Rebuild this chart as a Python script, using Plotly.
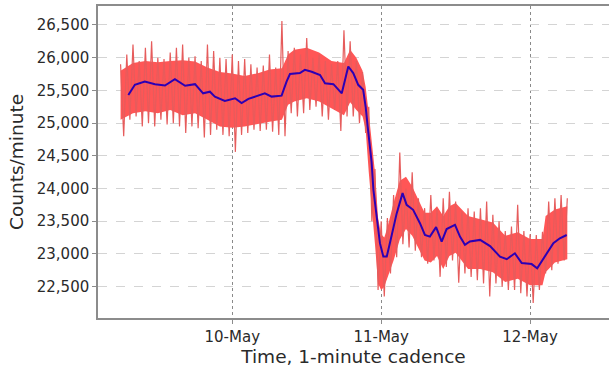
import pandas as pd
import plotly.graph_objects as go

# ---------------- data ----------------
BASE = pd.Timestamp("2015-05-09 00:00")  # hours below are counted from 9-May 00:00

# raw 1-minute counts: local high at each full hour, local low at each half hour
raw_hi_hours = list(range(6, 79))
raw_hi = [25900, 26050, 26200, 25950, 26150, 26250, 26000, 25980, 26080, 26150,
          26200, 26000, 26020, 25950, 26200, 26100, 26000, 25980, 26050, 25950,
          25980, 25900, 25850, 25880, 26050, 25850, 26560, 26100, 26150, 26050,
          26300, 26000, 26050, 25950, 25900, 25950, 26420, 26250, 25950, 25780,
          25250, 24300, 23500, 23550, 23900, 24550, 24000, 24250, 23850, 23700,
          23900, 23700, 23850, 23950, 23800, 23650, 23700, 23650, 23700, 23800,
          23600, 23500, 23350, 23420, 23750, 23350, 23300, 23290, 23340, 23800,
          23850, 23900, 23850]
raw_lo_hours = [h + 0.5 for h in range(6, 78)]
raw_lo = [24800, 25050, 25100, 24950, 25000, 24950, 25050, 24980, 25000, 24950,
          24850, 24950, 24920, 24780, 24820, 24900, 24820, 24800, 24560, 24820,
          24850, 24900, 24880, 24900, 24870, 24820, 24800, 25150, 25100, 25150,
          25200, 25250, 25100, 25050, 25200, 24880, 25100, 25100, 25000, 24850,
          23500, 22450, 22350, 22700, 22950, 23150, 23100, 23050, 22950, 22850,
          22900, 22650, 22800, 22900, 22560, 22700, 22650, 22600, 22550, 22350,
          22550, 22500, 22450, 22450, 22400, 22350, 22250, 22450, 22700, 22750,
          22850, 22900]

# dense core of the raw series
core_hours = [6, 8, 10, 12, 14, 16, 18, 20, 22, 24, 26, 28, 30, 32, 33, 34, 36, 38,
              40, 42, 43, 44, 45, 45.5, 46, 46.5, 47, 47.5, 48, 48.5, 49, 50, 51,
              52, 53, 54, 55, 56, 57, 58, 59, 60, 62, 64, 66, 68, 70, 72, 74, 74.5,
              76, 78]
core_upper = [25800, 25920, 25950, 25930, 25950, 25960, 25940, 25850, 25780, 25760,
              25720, 25760, 25820, 25840, 26050, 26120, 26150, 26080, 25950, 25920,
              26120, 26000, 25800, 25550, 25150, 24650, 24250, 23550, 23300, 23250,
              23400, 23780, 24120, 24180, 24030, 23830, 23630, 23630, 23730, 23580,
              23730, 23780, 23580, 23530, 23480, 23280, 23330, 23230, 23230, 23580,
              23680, 23730]
core_lower = [25050, 25150, 25180, 25150, 25200, 25120, 25150, 25050, 24950, 24930,
              24950, 24980, 25020, 25050, 25280, 25330, 25380, 25330, 25220, 25120,
              25320, 25200, 25100, 24900, 24250, 23650, 23150, 22550, 22450, 22500,
              22650, 22900, 23220, 23380, 23280, 23080, 22900, 22870, 22970, 22770,
              22970, 23020, 22770, 22770, 22720, 22570, 22620, 22520, 22520, 22720,
              22870, 22920]

# smoothed curve
smooth_hours = [7.25, 8.3, 9.9, 11.55, 13.15, 14.75, 16.4, 18.0, 19.3, 20.4, 21.2,
                22.8, 24.45, 25.5, 26.6, 27.65, 29.25, 30.35, 31.95, 32.75, 33.3,
                34.9, 35.7, 36.8, 38.15, 38.95, 40.3, 41.65, 42.15, 42.7, 43.5, 44.3,
                45.1, 45.5, 45.8, 46.2, 46.45, 46.75, 47.3, 47.8, 48.35, 48.9, 49.4,
                50.5, 51.45, 52.1, 53.15, 54.25, 55.05, 55.85, 56.85, 57.75, 58.55,
                59.9, 60.7, 61.5, 62.3, 63.95, 65.55, 67.15, 68.25, 69.55, 70.65,
                72.25, 73.15, 74.4, 75.75, 76.8, 77.9]
smooth_vals = [25430, 25585, 25635, 25595, 25575, 25670, 25570, 25595, 25455, 25480,
               25405, 25340, 25380, 25305, 25370, 25405, 25455, 25405, 25420, 25635,
               25750, 25765, 25815, 25785, 25735, 25610, 25595, 25455, 25635, 25865,
               25765, 25585, 25510, 25250, 24970, 24665, 24410, 23980, 23570, 23165,
               22960, 22960, 23165, 23620, 23930, 23750, 23675, 23470, 23290, 23265,
               23410, 23190, 23380, 23445, 23265, 23140, 23190, 23215, 23120, 22960,
               22920, 23010, 22860, 22845, 22780, 22970, 23165, 23240, 23290]

x_title = "Time, 1-minute cadence"
y_title = "Counts/minute"
x_tick_days = ["2015-05-10", "2015-05-11", "2015-05-12"]


def ts(hours):
    return [BASE + pd.Timedelta(hours=h) for h in hours]


# interleave highs and lows into one raw trace
raw_points = sorted(list(zip(raw_hi_hours, raw_hi)) + list(zip(raw_lo_hours, raw_lo)))
raw_t = ts([p[0] for p in raw_points])
raw_v = [p[1] for p in raw_points]

fig = go.Figure()
fig.add_trace(go.Scatter(
    x=ts(core_hours) + ts(core_hours[::-1]),
    y=core_upper + core_lower[::-1],
    fill="toself", fillcolor="#ff5656", mode="lines",
    line=dict(width=0, color="#ff5656"), hoverinfo="skip"))
fig.add_trace(go.Scatter(x=raw_t, y=raw_v, mode="lines",
                         line=dict(color="#e65c5c", width=1.2)))
fig.add_trace(go.Scatter(x=ts(smooth_hours), y=smooth_vals, mode="lines",
                         line=dict(color="#2c00b4", width=2)))

axis_col = "#8c8c8c"
fig.update_layout(
    width=609, height=368,
    margin=dict(l=98, r=0, t=6, b=50),
    paper_bgcolor="white", plot_bgcolor="white",
    showlegend=False,
    font=dict(family="DejaVu Sans", size=15, color="#2a2a2a"),
)
fig.update_xaxes(
    type="date",
    range=[BASE + pd.Timedelta(hours=2.36), BASE + pd.Timedelta(hours=84.72)],
    tickvals=x_tick_days, tickformat="%d-%b",
    showgrid=True, gridcolor="#8a8a8a", griddash="dot", gridwidth=1,
    showline=True, linecolor=axis_col, linewidth=1.5, mirror=True,
    ticks="outside", ticklen=4, tickcolor=axis_col,
    zeroline=False,
    title=dict(text=x_title, font=dict(size=18.5), standoff=4),
)
fig.update_yaxes(
    range=[22021, 26790], dtick=500, tick0=0, tickformat=",d",
    showgrid=True, gridcolor="#d4d4d4", griddash="dash", gridwidth=1,
    showline=True, linecolor=axis_col, linewidth=1.5,
    ticks="outside", ticklen=4, tickcolor=axis_col,
    zeroline=False,
    title=dict(text=y_title, font=dict(size=18.5), standoff=8),
)

fig.write_html("out.html")
